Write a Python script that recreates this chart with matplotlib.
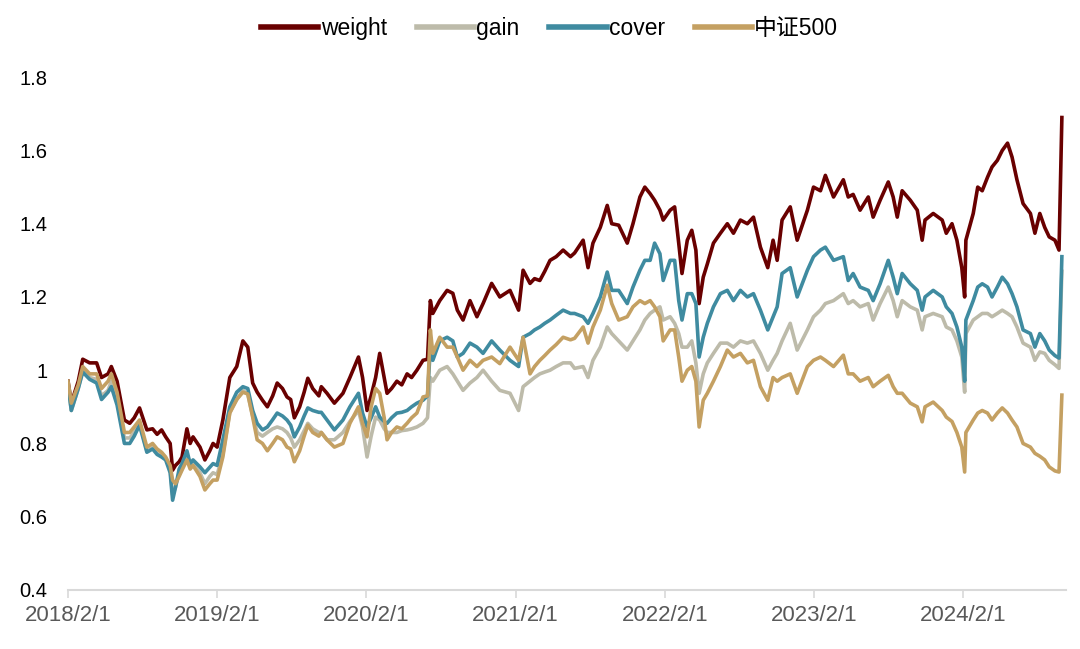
import matplotlib
matplotlib.use("Agg")
import matplotlib.pyplot as plt
import matplotlib.dates as mdates
import pandas as pd

plt.rcParams['font.family'] = ['Liberation Sans', 'Noto Sans CJK SC', 'DejaVu Sans']

dates = [
    "2018-02-01", "2018-02-09", "2018-02-26", "2018-03-09", "2018-03-26", "2018-04-12", "2018-04-24",
    "2018-05-10", "2018-05-18", "2018-06-01", "2018-06-19", "2018-07-02", "2018-07-13", "2018-07-26",
    "2018-08-13", "2018-08-27", "2018-09-07", "2018-09-18", "2018-09-28", "2018-10-09", "2018-10-15",
    "2018-10-22", "2018-10-31", "2018-11-07", "2018-11-19", "2018-11-27", "2018-12-04", "2018-12-21",
    "2019-01-02", "2019-01-14", "2019-01-22", "2019-02-01", "2019-02-15", "2019-03-04", "2019-03-21",
    "2019-04-05", "2019-04-17", "2019-04-29", "2019-05-10", "2019-05-23", "2019-06-04", "2019-06-17",
    "2019-06-28", "2019-07-11", "2019-07-22", "2019-07-31", "2019-08-09", "2019-08-22", "2019-09-02",
    "2019-09-11", "2019-09-23", "2019-10-08", "2019-10-14", "2019-10-28", "2019-11-15", "2019-12-06",
    "2019-12-23", "2020-01-13", "2020-01-23", "2020-02-03", "2020-02-13", "2020-02-24", "2020-03-05",
    "2020-03-16", "2020-03-23", "2020-04-03", "2020-04-16", "2020-04-28", "2020-05-11", "2020-05-22",
    "2020-06-04", "2020-06-19", "2020-06-30", "2020-07-07", "2020-07-13", "2020-07-30", "2020-08-17",
    "2020-08-31", "2020-09-11", "2020-09-25", "2020-10-12", "2020-10-29", "2020-11-13", "2020-12-04",
    "2020-12-24", "2021-01-18", "2021-02-08", "2021-02-19", "2021-03-08", "2021-03-19", "2021-04-01",
    "2021-04-13", "2021-04-26", "2021-05-11", "2021-05-28", "2021-06-15", "2021-06-25", "2021-07-16",
    "2021-07-28", "2021-08-09", "2021-08-27", "2021-09-13", "2021-09-24", "2021-10-11", "2021-11-01",
    "2021-11-15", "2021-12-02", "2021-12-14", "2021-12-27", "2022-01-07", "2022-01-20", "2022-01-28",
    "2022-02-14", "2022-02-25", "2022-03-07", "2022-03-15", "2022-03-28", "2022-04-08", "2022-04-18",
    "2022-04-26", "2022-05-06", "2022-05-16", "2022-05-31", "2022-06-17", "2022-07-04", "2022-07-19",
    "2022-08-05", "2022-08-22", "2022-09-06", "2022-09-23", "2022-10-11", "2022-10-24", "2022-11-03",
    "2022-11-15", "2022-12-05", "2022-12-22", "2023-01-16", "2023-01-31", "2023-02-17", "2023-03-01",
    "2023-03-21", "2023-04-14", "2023-04-26", "2023-05-08", "2023-05-25", "2023-06-14", "2023-06-26",
    "2023-07-13", "2023-08-02", "2023-08-14", "2023-08-24", "2023-09-05", "2023-09-25", "2023-10-12",
    "2023-10-24", "2023-10-31", "2023-11-20", "2023-12-12", "2023-12-22", "2024-01-05", "2024-01-17",
    "2024-01-29", "2024-02-05", "2024-02-08", "2024-02-26", "2024-03-08", "2024-03-19", "2024-04-01",
    "2024-04-12", "2024-04-25", "2024-05-07", "2024-05-20", "2024-05-31", "2024-06-12", "2024-06-27",
    "2024-07-15", "2024-07-26", "2024-08-07", "2024-08-19", "2024-08-30", "2024-09-13", "2024-09-23",
    "2024-09-30",
]

weight = [
    0.97, 0.91, 0.97, 1.03, 1.02, 1.02, 0.98, 0.99, 1.01, 0.97, 0.864, 0.855, 0.87, 0.897,
    0.837, 0.84, 0.825, 0.837, 0.818, 0.80, 0.727, 0.74, 0.75, 0.763, 0.84, 0.80, 0.818, 0.79,
    0.755, 0.78, 0.80, 0.79, 0.864, 0.98, 1.01, 1.08, 1.063, 0.965, 0.94, 0.918, 0.90, 0.93,
    0.965, 0.95, 0.927, 0.92, 0.87, 0.90, 0.94, 0.978, 0.95, 0.93, 0.955, 0.937, 0.91, 0.937,
    0.98, 1.036, 0.98, 0.89, 0.93, 0.98, 1.046, 0.98, 0.937, 0.95, 0.97, 0.96, 0.99, 0.98,
    1.0, 1.027, 1.03, 1.19, 1.155, 1.19, 1.218, 1.21, 1.164, 1.137, 1.19, 1.146, 1.182, 1.237,
    1.2, 1.218, 1.164, 1.273, 1.237, 1.25, 1.245, 1.27, 1.30, 1.31, 1.328, 1.31, 1.32, 1.355,
    1.28, 1.347, 1.39, 1.45, 1.40, 1.396, 1.347, 1.40, 1.473, 1.50, 1.482, 1.464, 1.437, 1.41,
    1.437, 1.446, 1.347, 1.264, 1.355, 1.382, 1.328, 1.182, 1.254, 1.29, 1.347, 1.374, 1.40, 1.374,
    1.41, 1.40, 1.418, 1.336, 1.28, 1.355, 1.30, 1.41, 1.446, 1.355, 1.437, 1.50, 1.49, 1.532,
    1.473, 1.52, 1.473, 1.48, 1.437, 1.473, 1.418, 1.464, 1.514, 1.473, 1.418, 1.49, 1.464, 1.437,
    1.355, 1.41, 1.428, 1.41, 1.374, 1.40, 1.355, 1.28, 1.20, 1.355, 1.428, 1.50, 1.49, 1.527,
    1.555, 1.573, 1.60, 1.62, 1.582, 1.52, 1.455, 1.428, 1.374, 1.428, 1.39, 1.364, 1.355, 1.328,
    1.69,
]

gain = [
    0.96, 0.89, 0.95, 1.0, 0.98, 0.975, 0.93, 0.945, 0.97, 0.92, 0.815, 0.815, 0.83, 0.855,
    0.78, 0.79, 0.775, 0.77, 0.76, 0.73, 0.66, 0.68, 0.72, 0.735, 0.77, 0.74, 0.745, 0.72,
    0.69, 0.71, 0.72, 0.715, 0.77, 0.885, 0.92, 0.945, 0.935, 0.875, 0.83, 0.82, 0.83, 0.84,
    0.845, 0.84, 0.83, 0.815, 0.79, 0.81, 0.835, 0.855, 0.84, 0.83, 0.83, 0.81, 0.81, 0.83,
    0.86, 0.89, 0.845, 0.763, 0.82, 0.872, 0.864, 0.84, 0.83, 0.83, 0.83, 0.835, 0.837, 0.84,
    0.845, 0.855, 0.87, 0.98, 0.97, 1.0, 1.01, 0.99, 0.97, 0.945, 0.965, 0.98, 1.0, 0.97,
    0.945, 0.937, 0.89, 0.955, 0.97, 0.98, 0.99, 0.995, 1.0, 1.01, 1.02, 1.02, 1.005, 1.01,
    0.98, 1.027, 1.063, 1.118, 1.10, 1.08, 1.055, 1.08, 1.11, 1.137, 1.155, 1.164, 1.173, 1.137,
    1.146, 1.128, 1.10, 1.063, 1.063, 1.08, 1.02, 0.937, 0.99, 1.02, 1.046, 1.074, 1.074, 1.063,
    1.08, 1.074, 1.08, 1.046, 1.0, 1.027, 1.046, 1.08, 1.128, 1.055, 1.11, 1.146, 1.164, 1.182,
    1.19, 1.209, 1.182, 1.19, 1.173, 1.182, 1.137, 1.182, 1.227, 1.19, 1.146, 1.19, 1.173, 1.164,
    1.11, 1.146, 1.155, 1.146, 1.118, 1.11, 1.08, 1.036, 0.94, 1.10, 1.137, 1.146, 1.155, 1.155,
    1.146, 1.155, 1.164, 1.155, 1.146, 1.118, 1.074, 1.063, 1.027, 1.05, 1.046, 1.027, 1.015, 1.005,
    1.27,
]

cover = [
    0.96, 0.89, 0.95, 0.995, 0.975, 0.965, 0.92, 0.94, 0.955, 0.905, 0.80, 0.80, 0.82, 0.85,
    0.776, 0.785, 0.77, 0.763, 0.755, 0.72, 0.645, 0.68, 0.73, 0.745, 0.78, 0.745, 0.755, 0.736,
    0.72, 0.735, 0.745, 0.74, 0.81, 0.90, 0.94, 0.955, 0.95, 0.89, 0.855, 0.837, 0.845, 0.865,
    0.883, 0.875, 0.864, 0.85, 0.818, 0.845, 0.875, 0.897, 0.89, 0.885, 0.885, 0.864, 0.837, 0.864,
    0.90, 0.937, 0.883, 0.845, 0.87, 0.90, 0.872, 0.86, 0.855, 0.87, 0.883, 0.885, 0.89, 0.90,
    0.91, 0.918, 0.93, 1.063, 1.027, 1.08, 1.09, 1.08, 1.036, 1.046, 1.074, 1.063, 1.046, 1.08,
    1.055, 1.027, 1.01, 1.09, 1.10, 1.11, 1.118, 1.128, 1.137, 1.15, 1.164, 1.155, 1.155, 1.146,
    1.128, 1.155, 1.20, 1.268, 1.218, 1.218, 1.182, 1.227, 1.273, 1.30, 1.30, 1.347, 1.318, 1.245,
    1.30, 1.30, 1.19, 1.137, 1.209, 1.209, 1.182, 1.036, 1.09, 1.128, 1.173, 1.209, 1.218, 1.19,
    1.218, 1.20, 1.209, 1.164, 1.11, 1.146, 1.173, 1.264, 1.28, 1.20, 1.273, 1.31, 1.328, 1.336,
    1.30, 1.31, 1.245, 1.264, 1.227, 1.218, 1.19, 1.236, 1.30, 1.254, 1.209, 1.264, 1.236, 1.218,
    1.164, 1.20, 1.218, 1.20, 1.173, 1.155, 1.118, 1.063, 0.97, 1.137, 1.19, 1.227, 1.236, 1.227,
    1.20, 1.227, 1.254, 1.236, 1.209, 1.173, 1.11, 1.10, 1.063, 1.10, 1.08, 1.055, 1.04, 1.033,
    1.31,
]

csi500 = [
    0.97, 0.91, 0.96, 1.01, 0.99, 0.99, 0.95, 0.97, 0.99, 0.94, 0.83, 0.83, 0.845, 0.864,
    0.79, 0.80, 0.785, 0.776, 0.763, 0.74, 0.70, 0.69, 0.71, 0.727, 0.755, 0.73, 0.74, 0.71,
    0.673, 0.69, 0.70, 0.70, 0.763, 0.883, 0.92, 0.94, 0.935, 0.872, 0.81, 0.80, 0.78, 0.80,
    0.818, 0.81, 0.79, 0.785, 0.75, 0.78, 0.82, 0.85, 0.83, 0.82, 0.83, 0.81, 0.79, 0.80,
    0.855, 0.90, 0.855, 0.818, 0.90, 0.95, 0.937, 0.87, 0.81, 0.83, 0.845, 0.84, 0.855, 0.87,
    0.883, 0.927, 0.93, 1.11, 1.046, 1.09, 1.063, 1.063, 1.036, 1.0, 1.027, 1.01, 1.027, 1.036,
    1.018, 1.063, 1.027, 1.09, 0.99, 1.01, 1.027, 1.04, 1.055, 1.07, 1.09, 1.083, 1.087, 1.118,
    1.074, 1.118, 1.164, 1.232, 1.182, 1.137, 1.146, 1.173, 1.19, 1.182, 1.19, 1.173, 1.146, 1.08,
    1.11, 1.11, 1.036, 0.97, 1.0, 1.01, 0.97, 0.845, 0.918, 0.937, 0.97, 1.01, 1.055, 1.036,
    1.046, 1.02, 1.027, 0.955, 0.918, 0.98, 0.97, 0.98, 0.99, 0.937, 1.01, 1.027, 1.036, 1.027,
    1.01, 1.041, 0.99, 0.99, 0.97, 0.98, 0.955, 0.97, 0.986, 0.955, 0.937, 0.937, 0.91, 0.90,
    0.859, 0.90, 0.913, 0.89, 0.872, 0.86, 0.83, 0.79, 0.722, 0.83, 0.864, 0.883, 0.89, 0.883,
    0.864, 0.883, 0.897, 0.883, 0.864, 0.845, 0.80, 0.79, 0.773, 0.765, 0.755, 0.736, 0.725, 0.722,
    0.932,
]

series_names = ["weight", "gain", "cover", "中证500"]
series_colors = ["#690000", "#BDBBAA", "#3F8BA0", "#C4A062"]

df = pd.DataFrame({
    "weight": weight, "gain": gain, "cover": cover, "中证500": csi500,
}, index=pd.to_datetime(dates))

tick_dates = pd.to_datetime(["2018-02-01", "2019-02-01", "2020-02-01", "2021-02-01",
                             "2022-02-01", "2023-02-01", "2024-02-01"])
y_ticks = [0.4, 0.6, 0.8, 1.0, 1.2, 1.4, 1.6, 1.8]
y_labels = ["0.4", "0.6", "0.8", "1", "1.2", "1.4", "1.6", "1.8"]

fig = plt.figure(figsize=(10.8, 6.49), dpi=100)
ax = fig.add_axes([0.063, 0.091, 0.924, 0.790])

for name, col in zip(series_names, series_colors):
    ax.plot(df.index, df[name], color=col, lw=2.6, label=name, solid_joinstyle="round")

ax.set_ylim(0.4, 1.8)
ax.set_xlim(pd.Timestamp("2018-02-01"), pd.Timestamp("2024-10-10"))
ax.set_yticks(y_ticks)
ax.set_yticklabels(y_labels)
ax.set_xticks(tick_dates)
ax.xaxis.set_major_formatter(mdates.DateFormatter("%Y/%-m/%-d"))

for s in ["top", "right", "left"]:
    ax.spines[s].set_visible(False)
ax.spines["bottom"].set_color("#D9D9D9")
ax.spines["bottom"].set_linewidth(1.5)

ax.tick_params(axis="y", length=0, labelsize=14.5, labelcolor="#000000", pad=15)
ax.tick_params(axis="x", length=6, width=1.2, color="#D9D9D9", direction="out",
               labelsize=16, labelcolor="#595959", pad=5)

leg = fig.legend(loc="upper center", bbox_to_anchor=(0.509, 1.005), ncol=4, frameon=False,
                 fontsize=16.5, handlelength=2.5, handletextpad=0.1, columnspacing=1.3)
for line in leg.get_lines():
    line.set_linewidth(4)

fig.savefig("out.png", dpi=100)
